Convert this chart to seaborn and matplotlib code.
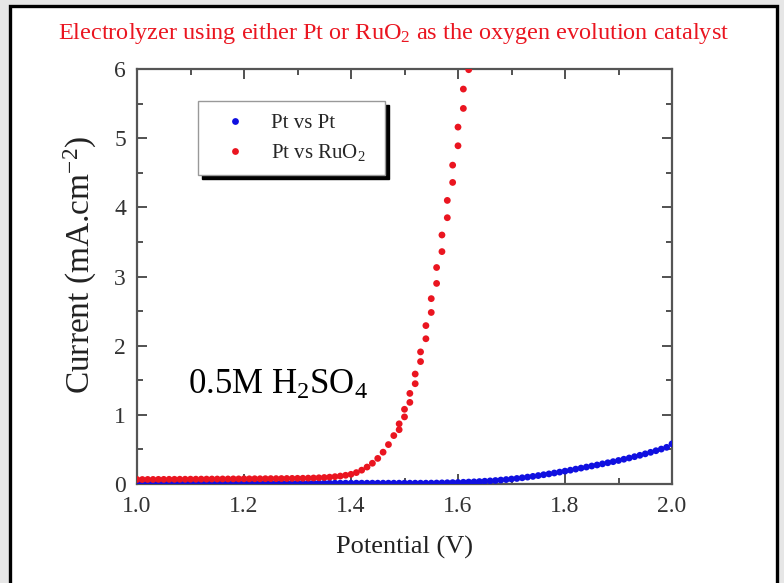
import numpy as np
import pandas as pd
import matplotlib
matplotlib.use("Agg")
import matplotlib.pyplot as plt
from matplotlib.patches import Rectangle
from matplotlib.ticker import MultipleLocator, FormatStrFormatter
import seaborn as sns

# ---------------- data ----------------
series_labels = ["Pt vs Pt", "Pt vs RuO$_2$"]

# Pt vs RuO2 (red)
ruo2_potential = [
    1.00, 1.01, 1.02, 1.03, 1.04, 1.05, 1.06, 1.07, 1.08, 1.09,
    1.10, 1.11, 1.12, 1.13, 1.14, 1.15, 1.16, 1.17, 1.18, 1.19,
    1.20, 1.21, 1.22, 1.23, 1.24, 1.25, 1.26, 1.27, 1.28, 1.29,
    1.30, 1.31, 1.32, 1.33, 1.34, 1.35, 1.36, 1.37, 1.38, 1.39,
    1.40, 1.41, 1.42, 1.43, 1.44, 1.45, 1.46, 1.47, 1.48,
    1.49, 1.49, 1.50, 1.50, 1.51, 1.51, 1.52, 1.52, 1.53, 1.53,
    1.54, 1.54, 1.55, 1.55, 1.56, 1.56, 1.57, 1.57, 1.58, 1.58,
    1.59, 1.59, 1.60, 1.60, 1.61, 1.61, 1.62,
]
ruo2_current = [
    0.065, 0.065, 0.066, 0.066, 0.067, 0.067, 0.068, 0.068, 0.069, 0.069,
    0.070, 0.070, 0.071, 0.071, 0.072, 0.072, 0.073, 0.073, 0.074, 0.074,
    0.075, 0.075, 0.076, 0.076, 0.077, 0.078, 0.078, 0.079, 0.080, 0.081,
    0.082, 0.083, 0.085, 0.087, 0.090, 0.094, 0.099, 0.106, 0.115, 0.126,
    0.140, 0.165, 0.200, 0.245, 0.300, 0.370, 0.460, 0.570, 0.700,
    0.785, 0.870, 0.970, 1.080, 1.180, 1.310, 1.450, 1.590, 1.770, 1.910,
    2.100, 2.290, 2.480, 2.680, 2.900, 3.130, 3.360, 3.600, 3.850, 4.100,
    4.360, 4.610, 4.890, 5.160, 5.430, 5.710, 5.990,
]

# Pt vs Pt (blue)
pt_potential = [round(1.00 + 0.01 * i, 2) for i in range(101)]
pt_current = [
    0.012, 0.012, 0.012, 0.012, 0.012, 0.012, 0.012, 0.012, 0.012, 0.012,
    0.012, 0.012, 0.012, 0.012, 0.012, 0.012, 0.012, 0.012, 0.012, 0.012,
    0.012, 0.012, 0.012, 0.012, 0.012, 0.012, 0.012, 0.012, 0.012, 0.012,
    0.012, 0.012, 0.012, 0.012, 0.012, 0.012, 0.012, 0.012, 0.012, 0.012,
    0.012, 0.012, 0.012, 0.012, 0.012, 0.012, 0.012, 0.012, 0.012, 0.012,
    0.012, 0.012, 0.012, 0.012, 0.012, 0.013, 0.014, 0.016, 0.018, 0.020,
    0.022, 0.025, 0.028, 0.031, 0.035, 0.040, 0.045, 0.050, 0.057, 0.064,
    0.072, 0.080, 0.090, 0.100, 0.110, 0.122, 0.134, 0.146, 0.159, 0.172,
    0.186, 0.200, 0.215, 0.230, 0.245, 0.260, 0.275, 0.291, 0.307, 0.323,
    0.340, 0.358, 0.376, 0.395, 0.415, 0.436, 0.458, 0.481, 0.505, 0.530,
    0.580,
]

x_ticks = [1.0, 1.2, 1.4, 1.6, 1.8, 2.0]
y_ticks = [0, 1, 2, 3, 4, 5, 6]

# ---------------- style ----------------
sns.set_theme(style="ticks")
plt.rcParams["font.family"] = ["Liberation Serif", "DejaVu Serif"]
plt.rcParams["mathtext.default"] = "regular"

W, H = 784, 583
fig = plt.figure(figsize=(W / 100, H / 100), dpi=100)
fig.patch.set_facecolor("#e6e6e6")
fig.add_artist(Rectangle((10 / W, -0.05), (777 - 10) / W, 1 - 6 / H + 0.05,
                         transform=fig.transFigure, facecolor="white",
                         edgecolor="black", lw=2.4, zorder=-10))

ax = fig.add_axes([137 / W, 1 - 484 / H, 535 / W, 415 / H])

df = pd.concat([
    pd.DataFrame({"Potential": pt_potential, "Current": pt_current,
                  "Series": series_labels[0]}),
    pd.DataFrame({"Potential": ruo2_potential, "Current": ruo2_current,
                  "Series": series_labels[1]}),
], ignore_index=True)

palette = {series_labels[0]: "#1010e0", series_labels[1]: "#ea1520"}
sns.scatterplot(data=df, x="Potential", y="Current", hue="Series",
                palette=palette, s=24, linewidth=0, ax=ax, legend=True,
                zorder=3)

ax.set_xlim(1.0, 2.0)
ax.set_ylim(0, 6)
ax.set_xticks(x_ticks)
ax.set_yticks(y_ticks)
ax.xaxis.set_major_formatter(FormatStrFormatter("%.1f"))
ax.xaxis.set_minor_locator(MultipleLocator(0.1))
ax.yaxis.set_minor_locator(MultipleLocator(0.5))
ax.tick_params(which="both", direction="in", top=True, right=True,
               color="#333333", width=1.2)
ax.tick_params(which="major", length=7, labelsize=17, labelcolor="#333333")
ax.tick_params(which="minor", length=4)
ax.tick_params(axis="x", pad=9)
ax.tick_params(axis="y", pad=8)
for sp in ax.spines.values():
    sp.set_color("#555555")
    sp.set_linewidth(1.6)

ax.set_xlabel("Potential (V)", fontsize=19, color="#222222")
ax.xaxis.set_label_coords(0.5, -(547 - 484) / 415)
ax.xaxis.label.set_va("center")
ax.set_ylabel("Current (mA.cm$^{-2}$)", fontsize=24, color="#222222")
ax.yaxis.set_label_coords((80 - 137) / 535, (484 - 265) / 415)
ax.yaxis.label.set_va("center")

# legend with hard shadow
lx0, lx1 = (198 - 137) / 535, (385 - 137) / 535
ly1, ly0 = (484 - 101) / 415, (484 - 175) / 415
ax.add_patch(Rectangle((lx0 + 4 / 535, ly0 - 4 / 415), lx1 - lx0, ly1 - ly0,
                       transform=ax.transAxes, facecolor="black",
                       edgecolor="black", zorder=5))
ax.add_patch(Rectangle((lx0, ly0), lx1 - lx0, ly1 - ly0,
                       transform=ax.transAxes, facecolor="white",
                       edgecolor="#999999", lw=1.0, zorder=6))
handles, labels = ax.get_legend_handles_labels()
leg = ax.legend(handles, labels, loc="center left",
                bbox_to_anchor=((214 - 137) / 535, (484 - 138.5) / 415),
                frameon=False, fontsize=15, handlelength=2.0,
                handletextpad=0.75, borderpad=0, borderaxespad=0,
                labelspacing=0.45, markerscale=1.0)
leg.set_zorder(7)

ax.text(1.095, 1.43, "0.5M H$_2$SO$_4$", fontsize=25, ha="left",
        va="center", color="black", zorder=4)

fig.text(393.5 / W, 1 - 34 / H,
         "Electrolyzer using either Pt or RuO$_2$ as the oxygen evolution catalyst",
         ha="center", va="center", fontsize=17.5, color="#ea1520")

fig.savefig("out.png", dpi=100, facecolor=fig.get_facecolor())
